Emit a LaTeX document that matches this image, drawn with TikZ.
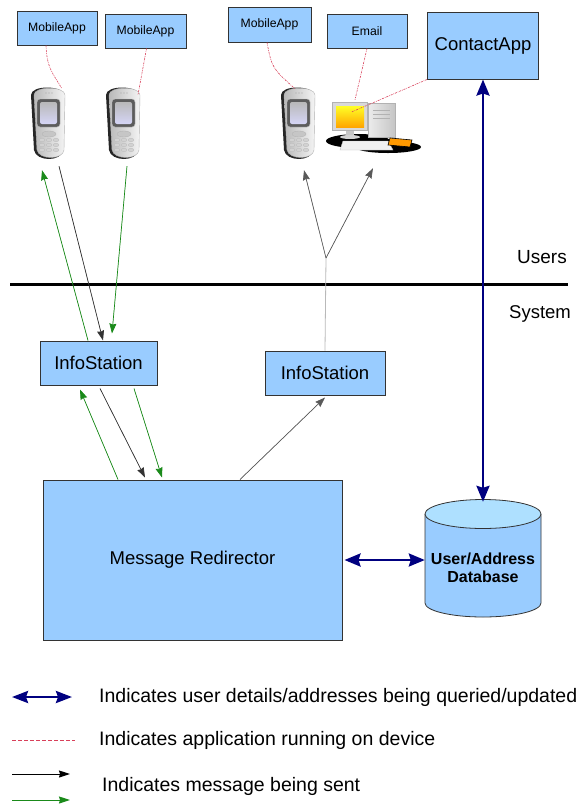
\documentclass[tikz,border=0pt]{standalone}
\usepackage{fontspec}
\setmainfont{Liberation Sans}
\usetikzlibrary{arrows.meta,calc}

\definecolor{boxblue}{HTML}{99CCFF}
\definecolor{dbtop}{HTML}{AEE0FF}
\definecolor{navy}{HTML}{000080}
\definecolor{msggreen}{HTML}{1A8A1A}
\definecolor{appred}{HTML}{D8405A}
\definecolor{edgegray}{HTML}{333333}

\tikzset{
  box/.style={draw=edgegray, line width=1pt, fill=boxblue, inner sep=0pt, align=center},
  smallbox/.style={box, font=\fontsize{12.2}{14}\selectfont},
  bigbox/.style={box, font=\fontsize{18.5}{21}\selectfont},
  device/.style={inner sep=0pt, minimum width=36pt},
  msg/.style={-{Stealth[length=10pt,width=7pt,inset=1pt]}, line width=0.7pt},
  blkmsg/.style={msg, draw=black!80, fill=black!80},
  grnmsg/.style={msg, draw=msggreen, fill=msggreen},
  grymsg/.style={msg, draw=gray!70!black, fill=gray!70!black},
  query/.style={{Stealth[length=16pt,width=13pt,inset=2pt]}-{Stealth[length=16pt,width=13pt,inset=2pt]},
    draw=navy, fill=navy, line width=2.6pt},
  appline/.style={draw=appred, line width=0.6pt, dash pattern=on 2pt off 1pt on 0.7pt off 1pt},
  legendtext/.style={anchor=west, inner sep=0pt, font=\fontsize{19.5}{23}\selectfont},
  phone/.pic={
    % dark rim on the left and bottom
    \fill[black!85] (-18,-29) .. controls (-18,-39) and (14,-39) .. (15,-29)
      -- (14,26) .. controls (13,38) and (-13,38) .. (-15,26) -- cycle;
    % silver body
    \shade[left color=gray!55, right color=gray!8, draw=gray!60, line width=0.4pt]
      (-15,-29) .. controls (-15,-38) and (16,-38) .. (16,-29)
      -- (15,26) .. controls (14,36) and (-10,36) .. (-12,26) -- cycle;
    % speaker
    \foreach \sx in {-3,0,3} \fill[gray!70] (\sx,-31) circle (0.7pt);
    % screen
    \fill[rounded corners=3pt, gray!40!black!80, draw=gray!50] (-12,-25) rectangle (11,3);
    \shade[rounded corners=2pt, top color=gray!55, bottom color=gray!35!blue!20] (-9,-22) rectangle (8,0);
    % keypad
    \fill[gray!45, draw=gray!60, line width=0.3pt] (0,10) ellipse [x radius=7pt, y radius=3pt];
    \foreach \ky in {16,21,26}
      \foreach \kx in {-7,0,7}
        \fill[gray!35, draw=gray!55, line width=0.3pt] (\kx,\ky) ellipse [x radius=2.8pt, y radius=1.8pt];
  }
}

\begin{document}
\begin{tikzpicture}[x=1pt, y=-1pt]
\useasboundingbox (0,0) rectangle (582,804);

% ---------- application boxes ----------
\node[smallbox, minimum width=80pt, minimum height=34pt] (ma1) at (57,28) {MobileApp};
\node[smallbox, minimum width=81pt, minimum height=34pt] (ma2) at (145.5,31) {MobileApp};
\node[smallbox, minimum width=83pt, minimum height=35pt] (ma3) at (269.5,24.5) {MobileApp};
\node[smallbox, minimum width=80pt, minimum height=34pt] (em) at (367,31) {Email};
\node[bigbox, minimum width=111pt, minimum height=67pt] (ca) at (483,45.5) {ContactApp};

% ---------- devices ----------
\node[device, minimum height=84pt] (ph1) at (49,126) {};
\node[device, minimum height=84pt] (ph2) at (124,126) {};
\node[device, minimum height=84pt] (ph3) at (299,126) {};
\node[inner sep=0pt, minimum width=90pt, minimum height=80pt] (pc) at (372,128) {};

\pic at (49,124) {phone};
\pic at (124,124) {phone};
\pic at (299,124) {phone};

% desktop computer
\fill[black] (358,141) ellipse [x radius=32pt, y radius=7pt];
\fill[black] (388,147) ellipse [x radius=33pt, y radius=6pt];
\shade[left color=gray!15, right color=gray!45, draw=gray!60, line width=0.4pt] (368,103) rectangle (395,137);
\draw[gray!60, line width=0.6pt] (373,110) -- (390,110) (373,114) -- (390,114) (373,118) -- (390,118);
\fill[gray!45] (346,130) rectangle (354,136);
\fill[gray!35] (350,137) ellipse [x radius=10pt, y radius=2pt];
\fill[gray!30, draw=gray!60, line width=0.4pt] (332,102) rectangle (367,130);
\shade[top color=yellow!85!white, bottom color=orange!70!yellow] (336,106) rectangle (364,127);
\fill[gray!12, draw=gray!50, line width=0.4pt] (343,141) -- (388,141) -- (393,150) -- (340,150) -- cycle;
\fill[orange!80!yellow, draw=black, line width=0.6pt] (390,138) -- (412,140) -- (410,147) -- (388,145) -- cycle;

% ---------- applications running on devices ----------
\draw[appline] ([xshift=-11pt]ma1.south) .. controls (47,68) and (52,72) .. ([xshift=13pt,yshift=-5pt]ph1.north);
\draw[appline] ([xshift=1pt]ma2.south) -- ([xshift=14pt,yshift=-11pt]ph2.north);
\draw[appline] ([xshift=-2.5pt]ma3.south) .. controls (272,68) .. ([xshift=-4pt,yshift=-5pt]ph3.north);
\draw[appline] (em.south) -- ([xshift=-17pt,yshift=-12pt]pc.north);
\draw[appline] (ca.south west) -- ([xshift=-20pt,yshift=-24pt]pc.north);

% ---------- users / system divider ----------
\coordinate (divl) at (10,284.5);
\coordinate (divr) at (568,284.5);
\draw[line width=3pt] (divl) -- (divr);
\node[font=\fontsize{19}{22}\selectfont] (users) at (542,257) {Users};
\node[font=\fontsize{18.5}{22}\selectfont] (system) at (540,314) {System};

% ---------- system components ----------
\node[bigbox, minimum width=117pt, minimum height=44pt] (is1) at (98.5,363) {InfoStation};
\node[bigbox, minimum width=120pt, minimum height=44pt] (is2) at (325,373) {InfoStation};
\node[bigbox, minimum width=299pt, minimum height=160pt] (rd) at (192.5,560) {Message Redirector};

% database cylinder
\path[fill=boxblue, draw=edgegray, line width=0.8pt]
  (425,514) -- (425,603) arc[start angle=180, end angle=360, x radius=58pt, y radius=14pt]
  -- (541,514);
\path[fill=dbtop, draw=edgegray, line width=0.8pt] (483,514) ellipse [x radius=58pt, y radius=14.5pt];
\node[inner sep=0pt, minimum width=116pt, minimum height=116pt, align=center,
      font=\fontsize{16}{18.5}\bfseries\selectfont] (db) at (483,560) {\\[9pt]User/Address\\Database};

% ---------- messages between phones and the first info station ----------
\draw[grnmsg] ([xshift=-10.5pt]is1.north) -- ([xshift=-7pt,yshift=-2pt]ph1.south);
\draw[blkmsg] ([xshift=10pt,yshift=2pt]ph1.south) -- ([xshift=4.5pt]is1.north);
\draw[grnmsg] ([xshift=3pt,yshift=2pt]ph2.south) -- ([xshift=13.5pt,yshift=7pt]is1.north);

% ---------- messages between info station and redirector ----------
\draw[grnmsg] ([xshift=-74.5pt]rd.north) -- ([xshift=-18.5pt,yshift=-4pt]is1.south);
\draw[blkmsg] ([xshift=1.5pt,yshift=-3pt]is1.south) -- ([xshift=-47.5pt,yshift=2pt]rd.north);
\draw[grnmsg] ([xshift=35.5pt,yshift=-3pt]is1.south) -- ([xshift=-30.5pt,yshift=2pt]rd.north);
\draw[grymsg] ([xshift=47.5pt]rd.north) -- ([yshift=-2pt]is2.south);

% ---------- delivery to the phone and the computer ----------
\coordinate (fork) at (326,258);
\draw[gray!55, line width=0.8pt] (is2.north) -- (fork);
\draw[grymsg] (fork) -- ([xshift=5pt,yshift=-2pt]ph3.south);
\draw[grymsg] (fork) -- ([xshift=1pt]pc.south);

% ---------- contact details queries ----------
\draw[query] (ca.south) -- (db.north);
\draw[query] ([xshift=2pt]rd.east) -- (db.west);

% ---------- legend ----------
\coordinate (lq1) at (12,697);  \coordinate (lq2) at (72,697);
\coordinate (la1) at (12,740);  \coordinate (la2) at (75,740);
\coordinate (lb1) at (12,774);  \coordinate (lb2) at (70,774);
\coordinate (lg1) at (12,800);  \coordinate (lg2) at (70,800);
\draw[{Stealth[length=16pt,width=12pt,inset=2pt]}-{Stealth[length=16pt,width=12pt,inset=2pt]},
      draw=navy, fill=navy, line width=2.6pt] (lq1) -- (lq2);
\draw[draw=appred, line width=0.8pt, dash pattern=on 4pt off 2pt] (la1) -- (la2);
\draw[-{Stealth[length=11pt,width=7pt,inset=1pt]}, line width=1pt] (lb1) -- (lb2);
\draw[-{Stealth[length=11pt,width=7pt,inset=1pt]}, line width=1pt, draw=msggreen, fill=msggreen] (lg1) -- (lg2);
\node[legendtext] (t1) at (99,697) {Indicates user details/addresses being queried/updated};
\node[legendtext] (t2) at (99,740) {Indicates application running on device};
\node[legendtext] (t3) at (102,786) {Indicates message being sent};
\end{tikzpicture}
\end{document}
